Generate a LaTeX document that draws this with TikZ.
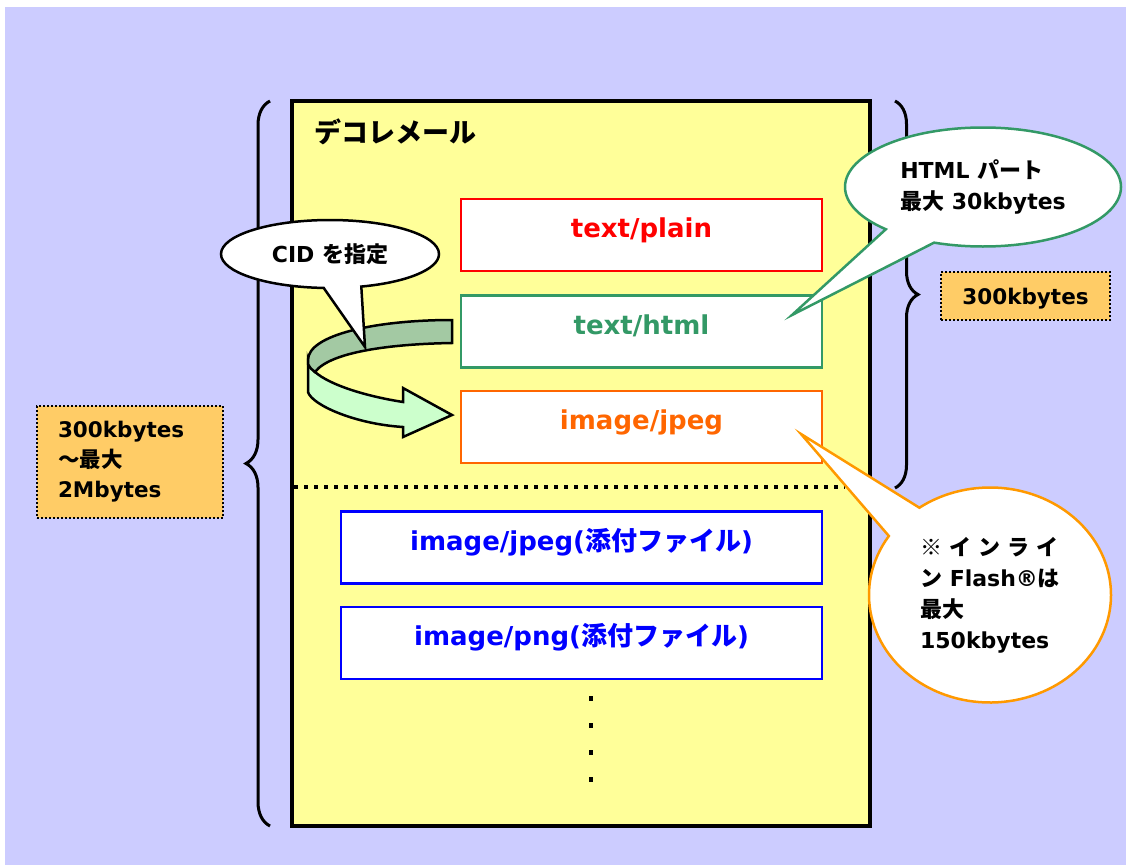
\documentclass[tikz,border=0pt]{standalone}
\usepackage{fontspec}
\setmainfont{DejaVu Sans}
\newfontfamily\jp{Noto Sans CJK JP}
\usetikzlibrary{calc,positioning,shapes.callouts,decorations.pathreplacing}
\definecolor{bgblue}{HTML}{CCCCFF}
\definecolor{mailyellow}{HTML}{FFFF99}
\definecolor{htmlgreen}{HTML}{339966}
\definecolor{jpegorange}{HTML}{FF6600}
\definecolor{noteorange}{HTML}{FF9900}
\definecolor{sizeorange}{HTML}{FFCC66}
\definecolor{backgreen}{HTML}{A3C9A3}
\definecolor{frontgreen}{HTML}{CCFFCC}

\begin{document}
\begin{tikzpicture}[x=1pt,y=-1pt,font=\bfseries,
  part/.style={draw,line width=2.5pt,fill=white,minimum width=361pt,minimum height=72pt,
    inner sep=0pt,text height=18pt,text depth=13pt,font=\fontsize{26}{30}\selectfont\bfseries},
  attach/.style={part,draw=blue,text=blue,minimum width=481pt},
  size/.style={draw,dash pattern=on 2pt off 2pt,line width=2pt,fill=sizeorange,
    font=\fontsize{21.5}{30}\selectfont\bfseries},
  note/.style={ellipse callout,draw,line width=2.5pt,fill=white,inner sep=0pt,align=left,
    font=\fontsize{22}{31}\selectfont\bfseries},
  span/.style={decorate,line width=3pt,decoration={brace,amplitude=#1}}]
\useasboundingbox (0,0) rectangle (1126,865);
\fill[white] (0,0) rectangle (1126,865);
\fill[bgblue] (5,7) rectangle (1126,865);
% braces
\draw[span=24pt] (270,826) -- (270,101);
\draw[span=23pt] (895,101) -- (895,488);
% the mail
\node[draw,line width=4pt,fill=mailyellow,minimum width=578pt,minimum height=725pt,inner sep=0pt] (D) at (581,463.5) {};
\node[anchor=west,font=\fontsize{27}{30}\selectfont\bfseries\jp] (T) at (311,132) {デコレメール};
\node[part,draw=red,text=red] (P) at (641.5,235) {text/plain};
\node[part,draw=htmlgreen,text=htmlgreen] (H) at (641.5,331.5) {text/html};
\node[part,draw=jpegorange,text=jpegorange] (J) at (641.5,427) {image/jpeg};
\draw[line width=4pt,dash pattern=on 4pt off 6pt] (294,487) -- (845,487);
\node[attach] (A1) at (581.5,547.5) {image/jpeg({\jp 添付ファイル})};
\node[attach] (A2) at (581.5,643) {image/png({\jp 添付ファイル})};
\draw[line width=3.5pt,dash pattern=on 5pt off 22pt] (591,696) -- (591,785);
% CID arrow
\filldraw[fill=frontgreen,line width=2.5pt,line join=miter] (308,362) -- (308,392)
  .. controls (312,405) and (355,424) .. (403,427) -- (403,437) -- (452,415) -- (403,388) -- (403,402)
  .. controls (365,396) and (330,385) .. (315,372) .. controls (311,368) and (308,365) .. cycle;
\filldraw[fill=backgreen,line width=2.5pt] (452,320) .. controls (375,320) and (308,335) .. (308,360)
  -- (308,364) .. controls (310,368) and (312,370) .. (315,372)
  .. controls (330,352) and (390,344) .. (452,343) -- cycle;
% callouts
\node[note,minimum width=218pt,minimum height=68pt,callout absolute pointer={(365,347)},
  callout pointer arc=20] (C) at (330,254) {CID {\jp を指定}};
\node[note,draw=htmlgreen,minimum width=276pt,minimum height=119pt,callout absolute pointer={(792,315)},
  callout pointer arc=24] (N1) at (983,187) {HTML {\jp パート}\\{\jp 最大} 30kbytes};
\node[note,draw=noteorange,minimum width=242pt,minimum height=215pt,callout absolute pointer={(801,434)},
  callout pointer arc=21] (N2) at (990,595)
  {{\jp ※\kern7pt イ\kern7pt ン\kern7pt ラ\kern7pt イ}\\{\jp ン} Flash®{\jp は}\\{\jp 最大}\\150kbytes};
% sizes
\node[size,minimum width=169pt,minimum height=48pt,inner sep=0pt,text height=17pt,text depth=0pt] (S1) at (1025.5,296) {300kbytes};
\node[size,text width=144pt,inner xsep=21pt,minimum height=112pt,align=left] (S2) at (130,462) {300kbytes\\{\jp ～最大}\\2Mbytes};
\end{tikzpicture}
\end{document}
